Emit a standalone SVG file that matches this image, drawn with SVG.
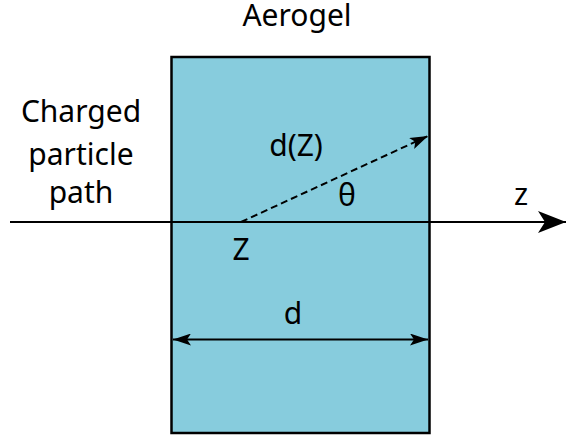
<svg xmlns="http://www.w3.org/2000/svg" width="566" height="438" viewBox="0 0 566 438">
<style>
text{font-family:"Noto Sans","Open Sans","DejaVu Sans",sans-serif;font-size:30px;fill:#000;text-anchor:middle}
.ln{stroke:#000;stroke-width:2;fill:none}
</style>
<defs>
<marker id="big" viewBox="0 0 28 22" refX="28" refY="11" markerWidth="28" markerHeight="22" markerUnits="userSpaceOnUse" orient="auto">
<path d="M0,0 L28,11 L0,22 L7,11 Z" fill="#000"/>
</marker>
<marker id="sm" viewBox="0 0 18 12" refX="18" refY="6" markerWidth="18" markerHeight="12" markerUnits="userSpaceOnUse" orient="auto-start-reverse">
<path d="M0,0 L18,6 L0,12 L4,6 Z" fill="#000"/>
</marker>
</defs>
<g id="aerogel">
<rect x="171.5" y="57" width="258" height="376" fill="#87CCDD" stroke="#000" stroke-width="2.5"/>
<text x="297" y="26">Aerogel</text>
</g>
<g id="connectors">
<line class="ln" x1="10" y1="222" x2="566" y2="222" marker-end="url(#big)"/>
<line class="ln" x1="241" y1="222" x2="428" y2="136" stroke-dasharray="7,4" marker-end="url(#sm)"/>
<line class="ln" x1="173" y1="339.5" x2="428" y2="339.5" marker-start="url(#sm)" marker-end="url(#sm)"/>
</g>
<g id="labels">
<text x="81" y="122">Charged</text>
<text x="81" y="165">particle</text>
<text x="81" y="203">path</text>
<text x="296" y="156">d(Z)</text>
<text x="347" y="206">θ</text>
<text x="241" y="260">Z</text>
<text x="293" y="324">d</text>
<text x="521" y="205">z</text>
</g>
</svg>
